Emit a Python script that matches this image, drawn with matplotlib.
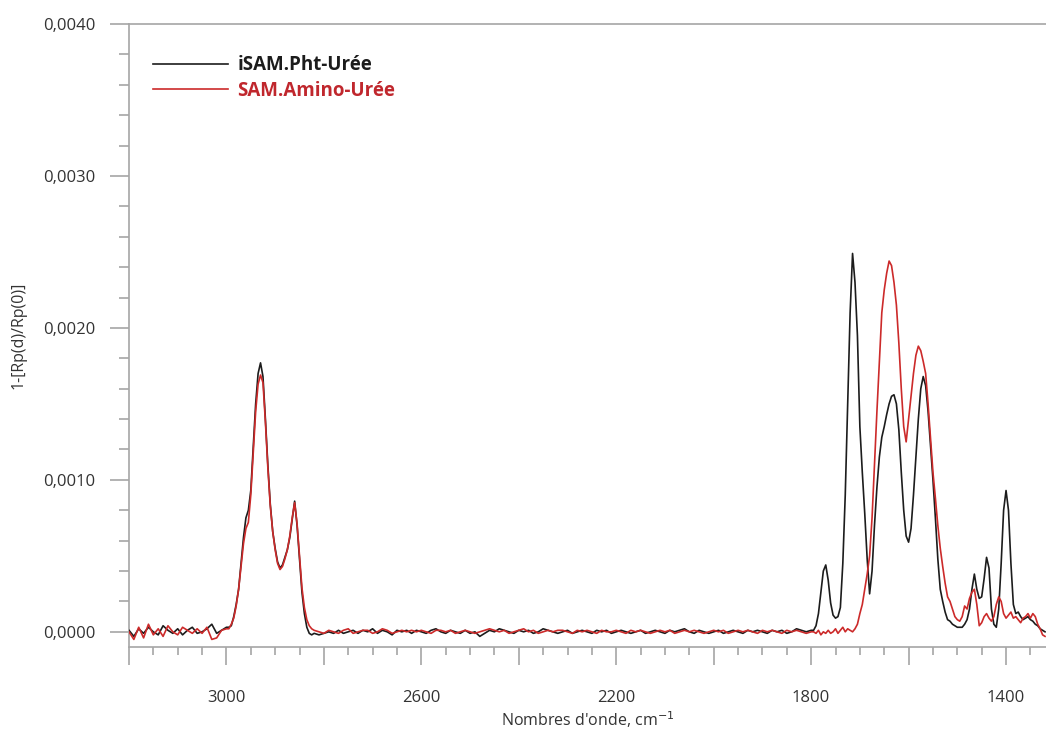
import numpy as np
import matplotlib
matplotlib.use("Agg")
import matplotlib.pyplot as plt
from matplotlib.ticker import MultipleLocator, FuncFormatter
from matplotlib.lines import Line2D

plt.rcParams['font.family'] = ['Open Sans', 'DejaVu Sans']

# ---------------- data (values in units of 1e-4) ----------------
# wavenumber segments (cm-1), descending
seg_a = np.arange(3200, 2999, -10)   # 21 points
seg_b = np.arange(2995, 2819, -5)    # 36 points
seg_c = np.arange(2810, 1799, -10)   # 102 points
seg_d = np.arange(1795, 1319, -5)    # 96 points

black_a = [0.1, -0.3, 0.2, -0.1, 0.3, 0.0, -0.2, 0.4, 0.1, -0.1,
           0.2, -0.2, 0.1, 0.3, -0.1, 0.0, 0.2, 0.5, -0.1, 0.1, 0.3]
red_a = [0.0, -0.5, 0.3, -0.4, 0.5, -0.2, 0.2, -0.3, 0.4, 0.0,
         -0.2, 0.3, 0.1, -0.1, 0.2, -0.1, 0.3, -0.5, -0.4, 0.1, 0.2]

black_b = [0.3, 0.4, 1.0, 1.8, 2.8, 4.5, 6.2, 7.5, 8.0, 9.3,
           12.2, 15.0, 17.0, 17.7, 16.8, 14.0, 11.0, 8.4, 6.6, 5.5,
           4.6, 4.2, 4.4, 4.9, 5.4, 6.2, 7.4, 8.6, 7.0, 4.8,
           2.6, 1.2, 0.3, -0.1, -0.2, -0.1]
red_b = [0.2, 0.5, 0.9, 1.7, 2.8, 4.3, 5.8, 6.8, 7.2, 9.0,
         11.8, 14.5, 16.3, 16.9, 16.4, 13.8, 10.8, 8.3, 6.6, 5.4,
         4.5, 4.1, 4.3, 4.8, 5.4, 6.3, 7.5, 8.5, 7.1, 5.0,
         2.9, 1.6, 0.8, 0.4, 0.2, 0.1]

black_c = [-0.2, -0.1, 0.0, -0.1, 0.1, -0.1, 0.0, 0.1, -0.1, 0.1,
           0.0, 0.2, -0.1, 0.1, 0.0, -0.2, 0.1, 0.0, 0.1, -0.1,
           0.1, 0.0, -0.1, 0.1, 0.2, 0.0, -0.1, 0.1, 0.0, -0.1,
           0.1, -0.1, 0.0, -0.3, -0.1, 0.1, 0.0, 0.2, 0.1, 0.0,
           -0.1, 0.1, 0.0, 0.1, -0.1, 0.0, 0.2, 0.1, 0.0, -0.1,
           0.0, 0.1, -0.1, 0.0, 0.1, 0.0, -0.1, 0.1, 0.0, 0.1,
           -0.1, 0.0, 0.1, 0.0, -0.1, 0.0, 0.1, -0.1, 0.0, 0.1,
           0.0, -0.1, 0.1, 0.0, 0.1, 0.2, 0.0, -0.1, 0.1, 0.0,
           -0.1, 0.0, 0.1, -0.1, 0.0, 0.1, 0.0, -0.1, 0.1, 0.0,
           0.1, 0.0, -0.1, 0.1, 0.0, 0.1, -0.1, 0.0, 0.2, 0.1,
           0.0, 0.1]
red_c = [0.0, -0.1, 0.1, 0.0, -0.1, 0.1, 0.2, -0.1, 0.0, 0.1,
         0.1, -0.1, 0.0, 0.2, 0.1, -0.1, 0.0, 0.1, 0.0, 0.1,
         0.0, 0.1, 0.0, -0.1, 0.1, 0.1, 0.0, 0.1, -0.1, 0.0,
         0.1, 0.0, -0.1, 0.0, 0.1, 0.2, 0.1, 0.0, 0.1, -0.1,
         0.0, 0.1, 0.2, 0.0, 0.1, -0.1, 0.0, 0.1, 0.0, 0.1,
         0.1, 0.0, -0.1, 0.1, 0.0, 0.1, 0.0, -0.1, 0.1, 0.0,
         0.0, 0.1, 0.0, -0.1, 0.1, 0.0, 0.1, 0.0, -0.1, 0.0,
         0.1, 0.0, 0.1, -0.1, 0.0, 0.1, 0.0, 0.1, 0.0, -0.1,
         0.0, 0.1, 0.0, 0.1, -0.1, 0.0, 0.1, 0.0, 0.1, 0.0,
         -0.1, 0.1, 0.0, 0.1, 0.0, -0.1, 0.1, 0.0, 0.1, 0.0,
         -0.1, 0.0]

black_d = [0.1, 0.4, 1.2, 2.6, 4.0, 4.4, 3.4, 1.9, 1.1, 0.9,
           1.0, 1.6, 4.5, 9.0, 15.0, 21.0, 24.9, 23.0, 19.5, 13.5,
           10.5, 7.8, 4.8, 2.5, 4.0, 7.0, 9.5, 11.5, 12.8, 13.5,
           14.3, 15.0, 15.5, 15.6, 15.0, 13.3, 10.5, 8.0, 6.3, 5.9,
           6.8, 9.0, 11.5, 14.0, 16.0, 16.8, 16.2, 14.5, 12.3, 10.0,
           7.5, 4.8, 2.8, 2.0, 1.3, 0.8, 0.7, 0.5, 0.4, 0.3,
           0.3, 0.3, 0.5, 0.8, 1.5, 2.8, 3.8, 2.8, 2.2, 2.3,
           3.5, 4.9, 4.2, 1.5, 0.5, 0.3, 1.5, 4.5, 8.0, 9.3,
           8.0, 4.5, 1.8, 1.2, 1.3, 1.0, 0.8, 0.9, 1.0, 0.8,
           0.7, 0.5, 0.4, 0.2, 0.1, 0.0]
red_d = [0.0, -0.1, 0.1, -0.2, 0.0, -0.1, 0.1, -0.1, 0.0, 0.2,
         -0.1, 0.1, 0.3, 0.0, 0.2, 0.1, 0.0, 0.2, 0.5, 1.2,
         1.8, 2.8, 3.8, 5.0, 7.5, 11.0, 14.5, 17.8, 21.0, 22.5,
         23.6, 24.4, 24.1, 23.0, 21.5, 19.0, 16.0, 13.5, 12.5, 14.0,
         15.5, 17.0, 18.2, 18.8, 18.5, 17.8, 17.0, 15.0, 12.8, 10.5,
         8.8, 7.0, 5.5, 4.3, 3.2, 2.3, 2.0, 1.5, 1.0, 0.8,
         0.7, 1.0, 1.7, 1.5, 2.2, 2.6, 2.8, 1.8, 0.4, 0.6,
         1.0, 1.2, 0.9, 0.7, 1.0, 1.8, 2.3, 2.0, 1.2, 0.9,
         1.1, 1.3, 0.9, 1.0, 0.8, 0.6, 0.9, 1.0, 1.2, 0.9,
         1.2, 1.0, 0.5, 0.2, -0.2, -0.3]

series_labels = ["iSAM.Pht-Urée", "SAM.Amino-Urée"]
x_tick_values = [3000, 2600, 2200, 1800, 1400]
scale = 1e-4

wavenumber = np.concatenate([seg_a, seg_b, seg_c, seg_d])
black = np.concatenate([black_a, black_b, black_c, black_d]) * scale
red = np.concatenate([red_a, red_b, red_c, red_d]) * scale

# ---------------- figure ----------------
fig = plt.figure(figsize=(10.46, 7.36), dpi=100)
ax = fig.add_axes([0.1233, 0.1209, 0.8767, 0.8465])

black_col = "#1c1c1c"
red_col = "#cc2a2a"
ax.plot(wavenumber, black, color=black_col, lw=1.2, zorder=3)
ax.plot(wavenumber, red, color=red_col, lw=1.2, zorder=4)

ax.set_xlim(3200, 1318)
ax.set_ylim(-0.0001, 0.0040)

spine_col = "#a6a6a6"
for s in ["left", "bottom", "top"]:
    ax.spines[s].set_color(spine_col)
    ax.spines[s].set_linewidth(1.2)
ax.spines["right"].set_visible(False)

ax.xaxis.set_major_locator(MultipleLocator(200))
ax.xaxis.set_minor_locator(MultipleLocator(50))
ax.xaxis.set_major_formatter(FuncFormatter(
    lambda v, p: f"{int(round(v))}" if int(round(v)) in x_tick_values else ""))
ax.yaxis.set_major_locator(MultipleLocator(0.001))
ax.yaxis.set_minor_locator(MultipleLocator(0.0002))
ax.yaxis.set_major_formatter(FuncFormatter(lambda v, p: f"{v:.4f}".replace(".", ",")))

ax.tick_params(axis="x", which="major", length=13, width=1.2, color=spine_col,
               labelsize=12, labelcolor="#333333", pad=18, top=False)
ax.tick_params(axis="x", which="minor", length=6, width=1.2, color=spine_col, top=False)
ax.tick_params(axis="y", which="major", length=14, width=1.2, color=spine_col,
               labelsize=12, labelcolor="#333333", pad=10)
ax.tick_params(axis="y", which="minor", length=7, width=1.2, color=spine_col)

ax.set_xlabel("Nombres d'onde, cm$^{-1}$", fontsize=11.5, color="#333333", labelpad=2)
ax.set_ylabel("1-[Rp(d)/Rp(0)]", fontsize=11.5, color="#333333", labelpad=12)

handles = [Line2D([], [], color=black_col, lw=1.2), Line2D([], [], color=red_col, lw=1.2)]
leg = ax.legend(handles, series_labels, loc="upper left", bbox_to_anchor=(0.026, 0.950),
                frameon=False, borderpad=0, borderaxespad=0,
                handlelength=4.0, handletextpad=0.5, labelspacing=0.3,
                prop={"size": 13.5, "weight": "bold"})
leg.get_texts()[0].set_color("#1c1c1c")
leg.get_texts()[1].set_color("#c0272d")

fig.savefig("out.png", dpi=100)
